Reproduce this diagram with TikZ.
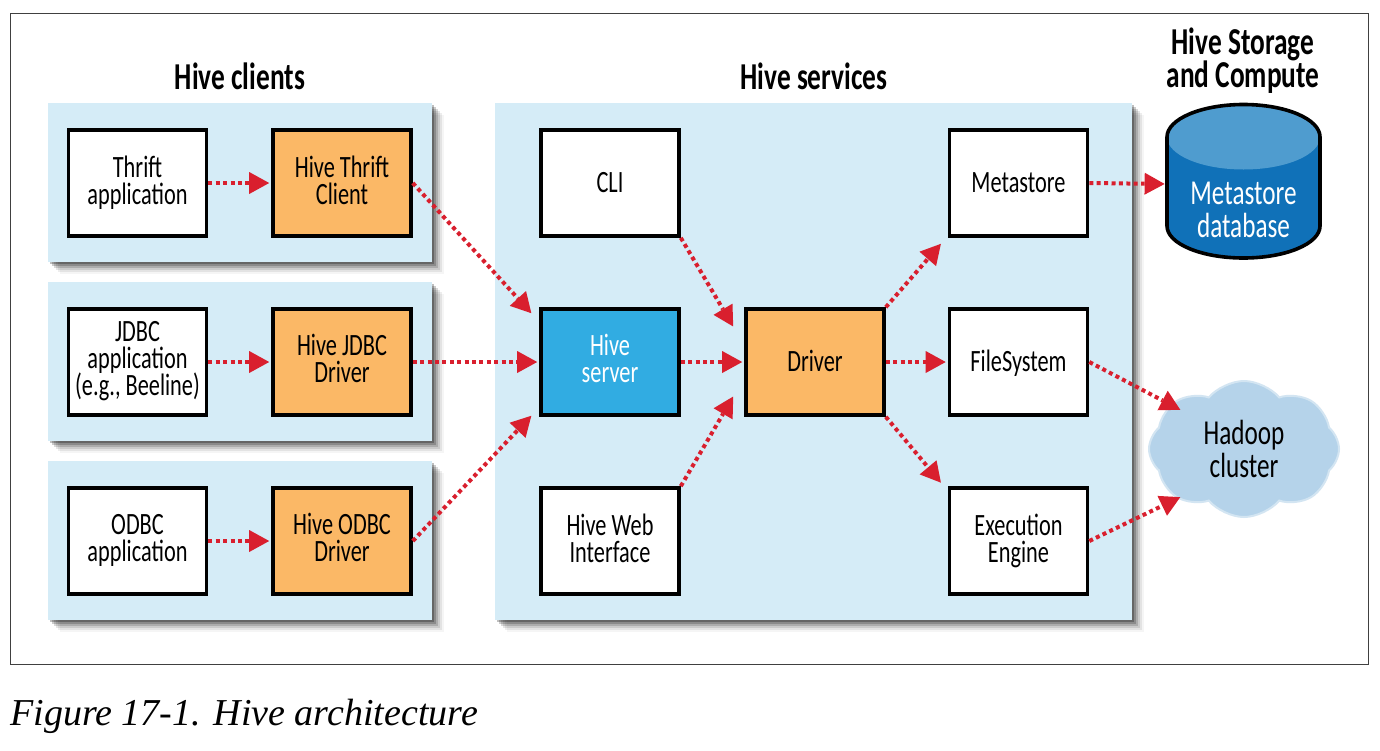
\documentclass[tikz,border=0pt]{standalone}
\usepackage{fontspec}
\usepackage{tikz}
\usepackage{xcolor}
\usetikzlibrary{arrows.meta,shadows,shapes.symbols}
\setmainfont[FakeStretch=0.72]{Carlito}
\newfontfamily\captionfont{Liberation Serif}
\setlength{\lineskiplimit}{-20pt}
\definecolor{panelblue}{HTML}{D5ECF7}
\definecolor{hiveorange}{HTML}{FBB866}
\definecolor{serverblue}{HTML}{31ACE2}
\definecolor{dbblue}{HTML}{1071B8}
\definecolor{dbtop}{HTML}{4F9CCF}
\definecolor{cloudblue}{HTML}{B5D3EA}
\definecolor{flowred}{HTML}{D91F2E}
\tikzset{
    softshadow/.style={
        drop shadow={shadow xshift=1pt,shadow yshift=-1pt,opacity=.25,fill=black},
        drop shadow={shadow xshift=2pt,shadow yshift=-2pt,opacity=.2,fill=black},
        drop shadow={shadow xshift=3pt,shadow yshift=-3pt,opacity=.15,fill=black},
        drop shadow={shadow xshift=4pt,shadow yshift=-4pt,opacity=.1,fill=black},
        drop shadow={shadow xshift=5pt,shadow yshift=-5pt,opacity=.07,fill=black},
        drop shadow={shadow xshift=6pt,shadow yshift=-6pt,opacity=.04,fill=black}},
    panel/.style={rectangle,softshadow,fill=panelblue,inner sep=0pt},
    appbox/.style={rectangle,draw=black,line width=1.8pt,fill=white,minimum width=69pt,minimum height=53pt,
        inner sep=0pt,align=center,font=\fontsize{15.5}{13.5}\selectfont,
        execute at begin node={\rule{0pt}{12.7pt}},execute at end node={\rule[-3.2pt]{0pt}{3.2pt}}},
    hivebox/.style={appbox,fill=hiveorange},
    heading/.style={align=center,font=\fontsize{19}{16.5}\selectfont\bfseries},
    biglabel/.style={inner sep=0pt,align=center,font=\fontsize{17.5}{16.5}\selectfont},
    flow/.style={flowred,line width=2pt,dash pattern=on 2pt off 1.7pt,
        -{Triangle[length=10pt,width=11pt,fill=flowred,line width=0pt]},shorten >=1pt}
}
\begin{document}
\begin{tikzpicture}[x=0.5pt,y=-0.5pt]
    \useasboundingbox (0,0) rectangle (1380,750);
    \fill[white] (0,0) rectangle (1380,750);
    \node[rectangle,draw=black!75,line width=0.5pt,inner sep=0pt,minimum width=679pt,minimum height=325.5pt] (frame) at (689,338.5) {};

    \node[panel,minimum width=192pt,minimum height=79.5pt] (clientsA) at (240,182.5) {};
    \node[panel,minimum width=192pt,minimum height=79.5pt] (clientsB) at (240,361.5) {};
    \node[panel,minimum width=192pt,minimum height=79.5pt] (clientsC) at (240,540.5) {};
    \node[panel,minimum width=318.5pt,minimum height=258.5pt] (services) at (813.5,361.5) {};

    \node[heading] (clientstitle) at (240,76) {Hive clients};
    \node[heading] (servicestitle) at (814,76) {Hive services};
    \node[heading] (storagetitle) at (1243,61) {Hive Storage\\and Compute};

    \node[appbox] (thriftapp) at (137.5,183) {Thrift\\application};
    \node[appbox] (jdbcapp) at (137.5,362) {JDBC\\application\\(e.g., Beeline)};
    \node[appbox] (odbcapp) at (137.5,541) {ODBC\\application};
    \node[hivebox] (thriftclient) at (342,183) {Hive Thrift\\Client};
    \node[hivebox] (jdbcdriver) at (342,362) {Hive JDBC\\Driver};
    \node[hivebox] (odbcdriver) at (342,541) {Hive ODBC\\Driver};

    \node[appbox] (cli) at (610,183) {CLI};
    \node[appbox,fill=serverblue,text=white] (server) at (610,362) {Hive\\server};
    \node[appbox] (web) at (610,541) {Hive Web\\Interface};
    \node[hivebox] (driver) at (815,362) {Driver};
    \node[appbox] (metastore) at (1018.5,183) {Metastore};
    \node[appbox] (filesystem) at (1018.5,362) {FileSystem};
    \node[appbox] (engine) at (1018.5,541) {Execution\\Engine};

    % database drum
    \fill[dbblue] (1167,137) -- (1167,226) arc[start angle=180,end angle=360,x radius=38.25pt,y radius=16pt] -- (1320,137) arc[start angle=0,end angle=180,x radius=38.25pt,y radius=16.25pt] -- cycle;
    \fill[dbtop] (1243.5,137) ellipse [x radius=38.25pt,y radius=16.25pt];
    \draw[black,line width=1.8pt] (1167,137) -- (1167,226) arc[start angle=180,end angle=360,x radius=38.25pt,y radius=16pt] -- (1320,137) arc[start angle=0,end angle=180,x radius=38.25pt,y radius=16.25pt] -- cycle;
    \node[rectangle,inner sep=0pt,minimum width=76.5pt,minimum height=76.5pt] (metadb) at (1243.5,184) {};
    \node[biglabel,text=white] (metadblabel) at (1243.5,210) {Metastore\\database};

    \node[cloud,cloud puffs=8,cloud puff arc=100,cloud ignores aspect,fill=cloudblue,draw=cloudblue!60,line width=1pt,minimum width=95pt,minimum height=68pt,
        biglabel] (hadoop) at (1244,449) {Hadoop\\cluster};

    \node[inner sep=0pt,anchor=base west,font=\fontsize{19}{20}\captionfont\itshape] (caption) at (10,725) {Figure 17-1. Hive architecture};

    \draw[flow] (thriftapp) -- (thriftclient);
    \draw[flow] (jdbcapp) -- (jdbcdriver);
    \draw[flow] (odbcapp) -- (odbcdriver);
    \draw[flow] (thriftclient.east) -- ([shift={(-3.25pt,-3.75pt)}]server.north west);
    \draw[flow] (jdbcdriver) -- (server);
    \draw[flow] (odbcdriver.east) -- ([shift={(-3.25pt,1.25pt)}]server.south west);
    \draw[flow] (cli.south east) -- ([shift={(-5pt,-10.5pt)}]driver.north west);
    \draw[flow] (server) -- (driver);
    \draw[flow] (web.north east) -- ([shift={(-5pt,11pt)}]driver.south west);
    \draw[flow] (driver.north east) -- ([shift={(-2.75pt,-2.25pt)}]metastore.south west);
    \draw[flow] (driver) -- (filesystem);
    \draw[flow] (driver.south east) -- ([shift={(-2.75pt,1pt)}]engine.north west);
    \draw[flow] (metastore.east) -- (metadb.west);
    \draw[flow] (filesystem.east) -- ([shift={(6.5pt,-2.5pt)}]hadoop.150);
    \draw[flow] (engine.east) -- ([shift={(6.5pt,-2pt)}]hadoop.210);
\end{tikzpicture}
\end{document}
